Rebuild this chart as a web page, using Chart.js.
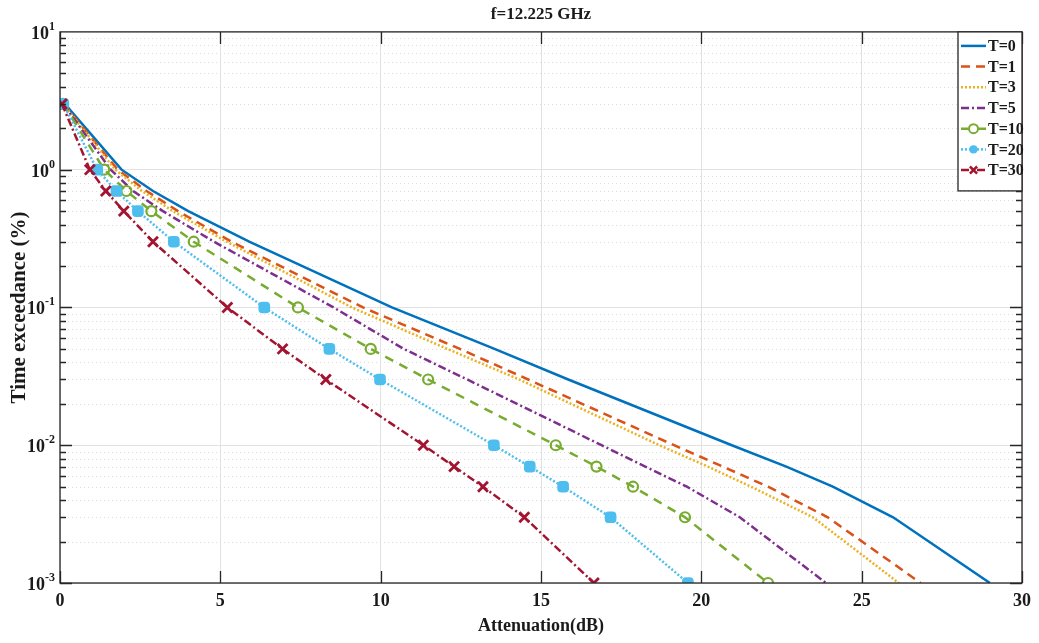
<!DOCTYPE html>
<html>
<head>
<meta charset="utf-8">
<title>f=12.225 GHz</title>
<script src="https://cdn.jsdelivr.net/npm/chart.js@4.4.1/dist/chart.umd.min.js"></script>
<style>
  html, body { margin: 0; padding: 0; background: #fff; }
  #wrap { width: 1039px; height: 643px; position: relative; }
</style>
</head>
<body>
<div id="wrap"><canvas id="chart"></canvas></div>
<script>
// time percentages (y) and attenuation in dB (x) for each T
const percentages = [3, 1, 0.7, 0.5, 0.3, 0.1, 0.05, 0.03, 0.01, 0.007, 0.005, 0.003, 0.001];
const attT0  = [0.15, 1.92, 2.90, 4.00, 5.90, 10.35, 13.55, 15.85, 20.95, 22.65, 24.10, 25.98, 29.00];
const attT1  = [0.10, 1.80, 2.70, 3.68, 5.35, 9.45, 12.47, 14.60, 19.15, 20.67, 22.08, 23.94, 26.84];
const attT3  = [0.10, 1.72, 2.56, 3.52, 5.20, 9.10, 12.08, 14.32, 18.69, 20.20, 21.55, 23.48, 26.16];
const attT5  = [0.10, 1.58, 2.28, 3.21, 4.80, 8.53, 10.72, 12.70, 16.89, 18.25, 19.55, 21.20, 23.89];
const attT10 = [0.10, 1.38, 2.07, 2.85, 4.17, 7.42, 9.69, 11.48, 15.46, 16.73, 17.87, 19.49, 22.08];
const attT20 = [0.10, 1.16, 1.76, 2.43, 3.55, 6.37, 8.40, 9.98, 13.53, 14.65, 15.69, 17.17, 19.58];
const attT30 = [0.06, 0.93, 1.43, 1.99, 2.90, 5.22, 6.94, 8.29, 11.33, 12.29, 13.19, 14.48, 16.65];
const seriesLabels = ['T=0', 'T=1', 'T=3', 'T=5', 'T=10', 'T=20', 'T=30'];
const xTicks = [0, 5, 10, 15, 20, 25, 30];
const yDecades = [0.001, 0.01, 0.1, 1, 10];
const yExponents = ['-3', '-2', '-1', '0', '1'];

const SERIF = '"Liberation Serif", "Times New Roman", serif';

const styles = [
    { color: '#0072BD', dash: [], marker: null },
    { color: '#D95319', dash: [9, 6], marker: null },
    { color: '#EDB120', dash: [2, 2], marker: null },
    { color: '#7E2F8E', dash: [8, 3, 2, 3], marker: null },
    { color: '#77AC30', dash: [9, 7], marker: 'circle' },
    { color: '#4DBEEE', dash: [2, 2], marker: 'rectRounded' },
    { color: '#A2142F', dash: [8, 3, 2, 3], marker: 'crossRot' }
];

const allSeries = [attT0, attT1, attT3, attT5, attT10, attT20, attT30];

const datasets = allSeries.map((att, i) => {
    const s = styles[i];
    let radius = 0;
    if (s.marker === 'circle') radius = 5;
    if (s.marker === 'rectRounded') radius = 5.5;
    if (s.marker === 'crossRot') radius = 7;
    return {
        label: seriesLabels[i],
        data: att.map((a, j) => ({ x: a, y: percentages[j] })),
        showLine: true,
        order: allSeries.length - i,
        borderColor: s.color,
        backgroundColor: s.color,
        borderWidth: 2.5,
        borderDash: s.dash,
        tension: 0,
        pointStyle: s.marker || 'circle',
        pointRadius: radius,
        pointBorderWidth: s.marker === 'crossRot' ? 2.8 : 2.2,
        pointBorderColor: s.color,
        pointBackgroundColor: s.marker === 'rectRounded' ? s.color : 'rgba(0,0,0,0)'
    };
});

function drawMarker(ctx, kind, x, y, r, color) {
    ctx.save();
    ctx.setLineDash([]);
    ctx.strokeStyle = color;
    ctx.fillStyle = color;
    if (kind === 'circle') {
        ctx.lineWidth = 2;
        ctx.beginPath();
        ctx.arc(x, y, r, 0, Math.PI * 2);
        ctx.fillStyle = '#fff';
        ctx.fill();
        ctx.stroke();
    } else if (kind === 'rectRounded') {
        ctx.beginPath();
        ctx.arc(x, y, r * 0.9, 0, Math.PI * 2);
        ctx.fill();
    } else if (kind === 'crossRot') {
        ctx.lineWidth = 2.5;
        const d = r * 0.8;
        ctx.beginPath();
        ctx.moveTo(x - d, y - d); ctx.lineTo(x + d, y + d);
        ctx.moveTo(x - d, y + d); ctx.lineTo(x + d, y - d);
        ctx.stroke();
    }
    ctx.restore();
}

// minor grid, inward ticks, box, y labels with exponents, legend
const matlabAxes = {
    id: 'matlabAxes',
    beforeDatasetsDraw(chart) {
        const { ctx, chartArea: a, scales: { y } } = chart;
        ctx.save();
        ctx.strokeStyle = '#dddddd';
        ctx.lineWidth = 1;
        ctx.setLineDash([1, 3]);
        for (let k = -3; k < 1; k++) {
            for (let m = 2; m < 10; m++) {
                const py = Math.round(y.getPixelForValue(m * Math.pow(10, k))) + 0.5;
                ctx.beginPath();
                ctx.moveTo(a.left, py);
                ctx.lineTo(a.right, py);
                ctx.stroke();
            }
        }
        ctx.restore();
    },
    afterDraw(chart) {
        const { ctx, chartArea: a, scales: { x, y } } = chart;
        ctx.save();
        ctx.strokeStyle = '#262626';
        ctx.lineWidth = 1.3;
        ctx.setLineDash([]);
        ctx.strokeRect(a.left, a.top, a.right - a.left, a.bottom - a.top);

        // x ticks, inward on bottom and top
        xTicks.forEach(v => {
            const px = Math.round(x.getPixelForValue(v)) + 0.5;
            ctx.beginPath();
            ctx.moveTo(px, a.bottom); ctx.lineTo(px, a.bottom - 12);
            ctx.moveTo(px, a.top); ctx.lineTo(px, a.top + 12);
            ctx.stroke();
        });
        // y ticks, major and minor, on left and right
        for (let k = -3; k < 1; k++) {
            for (let m = 1; m < 10; m++) {
                const len = m === 1 ? 12 : 6;
                const py = Math.round(y.getPixelForValue(m * Math.pow(10, k))) + 0.5;
                ctx.beginPath();
                ctx.moveTo(a.left, py); ctx.lineTo(a.left + len, py);
                ctx.moveTo(a.right, py); ctx.lineTo(a.right - len, py);
                ctx.stroke();
            }
        }

        // y tick labels 10^n
        ctx.fillStyle = '#1a1a1a';
        ctx.textBaseline = 'alphabetic';
        ctx.textAlign = 'left';
        yDecades.forEach((v, i) => {
            const py = y.getPixelForValue(v);
            const base = 'bold 18px ' + SERIF;
            const sup = 'bold 12px ' + SERIF;
            ctx.font = sup;
            const wExp = ctx.measureText(yExponents[i]).width;
            ctx.font = base;
            const wBase = ctx.measureText('10').width;
            const right = a.left - 5;
            ctx.fillText('10', right - wExp - wBase, py + 7);
            ctx.font = sup;
            ctx.fillText(yExponents[i], right - wExp, py - 2);
        });

        // legend box in the top right corner
        const boxW = 64, boxH = 159, rowH = 20.7;
        const bx = a.right - boxW, by = a.top;
        ctx.fillStyle = '#fff';
        ctx.fillRect(bx, by, boxW, boxH);
        ctx.strokeRect(bx, by, boxW, boxH);
        ctx.font = 'bold 16px ' + SERIF;
        ctx.textBaseline = 'middle';
        seriesLabels.forEach((lab, i) => {
            const s = styles[i];
            const ry = by + 14 + i * rowH;
            ctx.save();
            ctx.strokeStyle = s.color;
            ctx.lineWidth = 2.5;
            ctx.setLineDash(s.dash);
            ctx.beginPath();
            ctx.moveTo(bx + 3, ry);
            ctx.lineTo(bx + 28, ry);
            ctx.stroke();
            ctx.restore();
            if (s.marker) drawMarker(ctx, s.marker, bx + 15.5, ry, 4.5, s.color);
            ctx.fillStyle = '#1a1a1a';
            ctx.fillText(lab, bx + 30, ry + 1);
        });
        ctx.restore();
    }
};

new Chart(document.getElementById('chart'), {
    type: 'scatter',
    data: { datasets: datasets },
    options: {
        responsive: true,
        maintainAspectRatio: false,
        animation: false,
        events: [],
        layout: { padding: { left: 0, right: 12, top: 0, bottom: 0 } },
        plugins: {
            legend: { display: false },
            tooltip: { enabled: false },
            title: {
                display: true,
                text: 'f=12.225 GHz',
                fullSize: false,
                color: '#1a1a1a',
                font: { family: SERIF, size: 17, weight: 'bold' },
                padding: { top: 4, bottom: 7.5 }
            }
        },
        scales: {
            x: {
                type: 'linear',
                min: 0,
                max: 30,
                afterBuildTicks: s => { s.ticks = xTicks.map(v => ({ value: v })); },
                afterFit: s => { s.height = 60; },
                grid: { color: '#e2e2e2', lineWidth: 1, drawTicks: false },
                border: { display: false },
                ticks: {
                    color: '#1a1a1a',
                    padding: 8,
                    maxRotation: 0,
                    font: { family: SERIF, size: 18, weight: 'bold' }
                },
                title: {
                    display: true,
                    text: 'Attenuation(dB)',
                    color: '#1a1a1a',
                    font: { family: SERIF, size: 18, weight: 'bold' },
                    padding: { top: 4, bottom: 6 }
                }
            },
            y: {
                type: 'logarithmic',
                min: 0.001,
                max: 10,
                afterBuildTicks: s => { s.ticks = yDecades.map(v => ({ value: v })); },
                afterFit: s => { s.width = 60; },
                grid: { color: '#e2e2e2', lineWidth: 1, drawTicks: false },
                border: { display: false },
                ticks: { display: false },
                title: {
                    display: true,
                    text: 'Time exceedance (%)',
                    color: '#1a1a1a',
                    font: { family: SERIF, size: 21, weight: 'bold' },
                    padding: { top: 7, bottom: 4 }
                }
            }
        }
    },
    plugins: [matlabAxes]
});
</script>
</body>
</html>
